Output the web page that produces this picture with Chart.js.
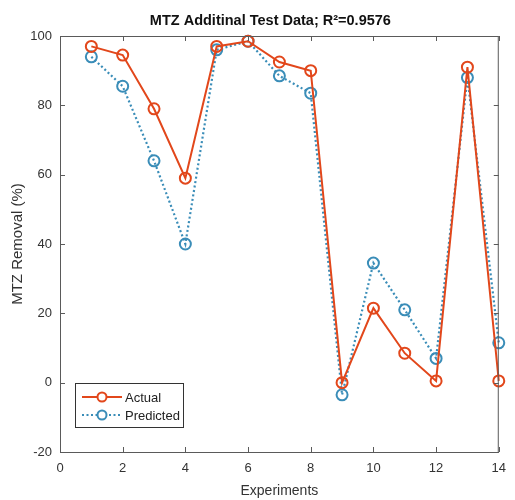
<!DOCTYPE html>
<html>
<head>
<meta charset="utf-8">
<script src="https://cdn.jsdelivr.net/npm/chart.js@4"></script>
<style>
  html, body { margin: 0; padding: 0; background: #fff; }
  #wrap { width: 515px; height: 500px; }
</style>
</head>
<body>
<div id="wrap"><canvas id="c" width="515" height="500"></canvas></div>
<script>
// experiment numbers
const experiments = [1, 2, 3, 4, 5, 6, 7, 8, 9, 10, 11, 12, 13, 14];
// MTZ removal (%)
const actual = [97, 94.5, 79, 59, 97, 98.5, 92.5, 90, 0, 21.5, 8.5, 0.5, 91, 0.5];
const predicted = [94, 85.5, 64, 40, 96, 98.5, 88.5, 83.5, -3.5, 34.5, 21, 7, 88, 11.5];

const xTicks = [0, 2, 4, 6, 8, 10, 12, 14];
const yTicks = [-20, 0, 20, 40, 60, 80, 100];

const titleText = "MTZ Additinal Test Data; R²=0.9576";
const red = "#e2471b";
const blue = "#3a8db8";
const axisColor = "#5a5a5a";
const font = "'Liberation Sans', Arial, sans-serif";

const toPts = (ys) => experiments.map((x, i) => ({ x: x, y: ys[i] }));

// box, inward ticks, title and legend drawn MATLAB style
const matlabLook = {
  id: "matlabLook",
  afterDatasetsDraw(chart) {
    const { ctx, chartArea: a, scales } = chart;
    ctx.save();
    ctx.strokeStyle = axisColor;
    ctx.lineWidth = 1;
    ctx.strokeRect(a.left + 0.5, a.top + 0.5, a.right - a.left - 1, a.bottom - a.top);
    const t = 5;
    ctx.beginPath();
    xTicks.forEach(v => {
      const px = Math.round(scales.x.getPixelForValue(v)) + 0.5;
      ctx.moveTo(px, a.bottom); ctx.lineTo(px, a.bottom - t);
      ctx.moveTo(px, a.top); ctx.lineTo(px, a.top + t);
    });
    yTicks.forEach(v => {
      const py = Math.round(scales.y.getPixelForValue(v)) + 0.5;
      ctx.moveTo(a.left, py); ctx.lineTo(a.left + t, py);
      ctx.moveTo(a.right, py); ctx.lineTo(a.right - t, py);
    });
    ctx.stroke();

    // title over the plot area
    ctx.fillStyle = "#111";
    ctx.font = "bold 14.5px " + font;
    ctx.textAlign = "center";
    ctx.textBaseline = "alphabetic";
    ctx.fillText(titleText, (a.left + a.right) / 2 - 9, 25);

    // legend
    const lx = a.left + 15, ly = a.bottom - 69, lw = 108, lh = 44;
    ctx.fillStyle = "#fff";
    ctx.fillRect(lx, ly, lw, lh);
    ctx.strokeStyle = "#333";
    ctx.strokeRect(lx + 0.5, ly + 0.5, lw, lh);
    const rows = [
      { label: "Actual", color: red, dash: [] },
      { label: "Predicted", color: blue, dash: [2, 2.5] }
    ];
    rows.forEach((r, i) => {
      const yy = ly + 14 + i * 18;
      ctx.strokeStyle = r.color;
      ctx.lineWidth = 2;
      ctx.setLineDash(r.dash);
      ctx.beginPath();
      ctx.moveTo(lx + 7, yy); ctx.lineTo(lx + 47, yy);
      ctx.stroke();
      ctx.setLineDash([]);
      ctx.beginPath();
      ctx.arc(lx + 27, yy, 4.5, 0, Math.PI * 2);
      ctx.fillStyle = "#fff";
      ctx.fill();
      ctx.stroke();
      ctx.fillStyle = "#222";
      ctx.font = "13px " + font;
      ctx.textAlign = "left";
      ctx.textBaseline = "middle";
      ctx.fillText(r.label, lx + 50, yy + 1);
    });
    ctx.restore();
  }
};

new Chart(document.getElementById("c"), {
  type: "scatter",
  data: {
    datasets: [
      {
        label: "Actual",
        data: toPts(actual),
        showLine: true,
        borderColor: red,
        borderWidth: 2,
        pointRadius: 5.5,
        pointBorderWidth: 2,
        pointBackgroundColor: "rgba(255,255,255,0)",
        pointBorderColor: red,
        clip: false
      },
      {
        label: "Predicted",
        data: toPts(predicted),
        showLine: true,
        borderColor: blue,
        borderWidth: 2.2,
        borderDash: [2, 2.5],
        pointRadius: 5.5,
        pointBorderWidth: 2,
        pointBackgroundColor: "rgba(255,255,255,0)",
        pointBorderColor: blue,
        clip: false
      }
    ]
  },
  options: {
    responsive: false,
    animation: false,
    layout: { padding: { top: 36, right: 12, left: 0, bottom: 0 } },
    plugins: {
      legend: { display: false },
      tooltip: { enabled: false },
      title: { display: false }
    },
    scales: {
      x: {
        type: "linear",
        min: 0,
        max: 14,
        afterBuildTicks: (s) => { s.ticks = xTicks.map(v => ({ value: v })); },
        afterFit: (s) => { s.height = 48; },
        grid: { display: false, drawTicks: false },
        border: { display: false },
        ticks: { color: "#333", font: { size: 13, family: font }, padding: 9 },
        title: {
          display: true,
          text: "Experiments",
          color: "#333",
          font: { size: 14, family: font },
          padding: { top: 2, bottom: 0 }
        }
      },
      y: {
        type: "linear",
        min: -20,
        max: 100,
        afterBuildTicks: (s) => { s.ticks = yTicks.map(v => ({ value: v })); },
        afterFit: (s) => { s.width = 60; },
        grid: { display: false, drawTicks: false },
        border: { display: false },
        ticks: { color: "#333", font: { size: 13, family: font }, padding: 8 },
        title: {
          display: true,
          text: "MTZ Removal (%)",
          color: "#333",
          font: { size: 15, family: font },
          padding: { top: 9, bottom: 0 }
        }
      }
    }
  },
  plugins: [matlabLook]
});
</script>
</body>
</html>
